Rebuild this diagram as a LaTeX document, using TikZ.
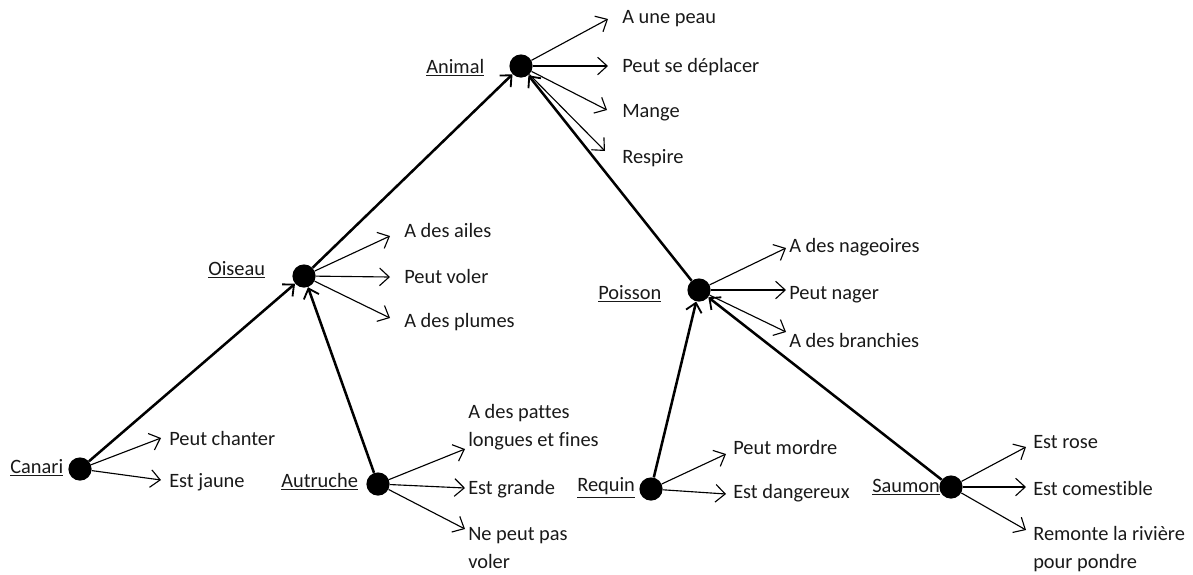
\documentclass[tikz,border=0pt]{standalone}
\usepackage{fontspec}
\setmainfont[Ligatures={NoCommon}]{Carlito}
\usetikzlibrary{arrows.meta}
\begin{document}
\begin{tikzpicture}[x=0.025cm, y=-0.025cm,
  every node/.style={font=\fontsize{14.5}{20}\selectfont, text=black!90},
  dot/.style={circle, fill=black, draw=none, minimum size=0.58cm, inner sep=0pt},
  cls/.style={anchor=west, inner sep=0pt},
  prop/.style={anchor=west, inner sep=0pt, align=left},
  isa/.style={line width=1.8pt, -{Straight Barb[length=2.2mm, width=4mm, line width=1.3pt]}},
  has/.style={line width=0.8pt, -{Straight Barb[length=2.4mm, width=4.4mm, line width=0.8pt]}}
]
\useasboundingbox (0,0) rectangle (1193,574);

% class dots
\node[dot] (animal)   at (521,66)  {};
\node[dot] (oiseau)   at (304,276) {};
\node[dot] (canari)   at (80,469)  {};
\node[dot] (autruche) at (378,484) {};
\node[dot] (poisson)  at (699,290) {};
\node[dot] (requin)   at (651,489) {};
\node[dot] (saumon)   at (951,487) {};

% class names
\node[cls] (lanimal)   at (426,68)  {\underline{Animal}};
\node[cls] (loiseau)   at (208,270) {\underline{Oiseau}};
\node[cls] (lcanari)   at (10,468)  {\underline{Canari}};
\node[cls] (lautruche) at (281,482) {\underline{Autruche}};
\node[cls] (lpoisson)  at (598,294) {\underline{Poisson}};
\node[cls] (lrequin)   at (577,488) {\underline{Requin}};
\node[cls] (lsaumon)   at (872,487) {\underline{Saumon}};

% is-a links
\draw[isa] (canari) -- (oiseau);
\draw[isa] (autruche) -- (oiseau);
\draw[isa] (oiseau) -- (animal);
\draw[isa] (poisson) -- (animal);
\draw[isa] (requin) -- (poisson);
\draw[isa] (saumon) -- (poisson);

% Animal properties
\node[prop] (a1) at (622,19)  {A une peau};
\node[prop] (a2) at (622,67)  {Peut se déplacer};
\node[prop] (a3) at (622,113) {Mange};
\node[prop] (a4) at (622,158) {Respire};
\coordinate (ta1) at (608,19);
\coordinate (ta2) at (608,66);
\coordinate (ta3) at (607,110);
\coordinate (ta4) at (605,151);
\foreach \t in {ta1,ta2,ta3,ta4} \draw[has] (animal) -- (\t);

% Oiseau properties
\node[prop] (o1) at (404,230) {A des ailes};
\node[prop] (o2) at (404,276) {Peut voler};
\node[prop] (o3) at (404,322) {A des plumes};
\coordinate (to1) at (390,236);
\coordinate (to2) at (390,277);
\coordinate (to3) at (390,318);
\foreach \t in {to1,to2,to3} \draw[has] (oiseau) -- (\t);

% Canari properties
\node[prop] (c1) at (169,438) {Peut chanter};
\node[prop] (c2) at (169,482) {Est jaune};
\coordinate (tc1) at (161,438);
\coordinate (tc2) at (161,480);
\foreach \t in {tc1,tc2} \draw[has] (canari) -- (\t);

% Autruche properties
\node[prop] (u1) at (468,427) {A des pattes\\longues et fines};
\node[prop] (u2) at (468,489) {Est grande};
\node[prop] (u3) at (468,548) {Ne peut pas\\voler};
\coordinate (tu1) at (465,449);
\coordinate (tu2) at (465,488);
\coordinate (tu3) at (465,529);
\foreach \t in {tu1,tu2,tu3} \draw[has] (autruche) -- (\t);

% Poisson properties
\node[prop] (p1) at (789,247) {A des nageoires};
\node[prop] (p2) at (789,295) {Peut nager};
\node[prop] (p3) at (789,340) {A des branchies};
\coordinate (tp1) at (786,248);
\coordinate (tp2) at (786,290);
\coordinate (tp3) at (786,332);
\foreach \t in {tp1,tp2,tp3} \draw[has] (poisson) -- (\t);

% Requin properties
\node[prop] (r1) at (733,447) {Peut mordre};
\node[prop] (r2) at (733,493) {Est dangereux};
\coordinate (tr1) at (726,454);
\coordinate (tr2) at (726,494);
\foreach \t in {tr1,tr2} \draw[has] (requin) -- (\t);

% Saumon properties
\node[prop] (s1) at (1033,442) {Est rose};
\node[prop] (s2) at (1033,488) {Est comestible};
\node[prop] (s3) at (1033,549) {Remonte la rivière\\pour pondre};
\coordinate (ts1) at (1026,447);
\coordinate (ts2) at (1026,487);
\coordinate (ts3) at (1026,530);
\foreach \t in {ts1,ts2,ts3} \draw[has] (saumon) -- (\t);
\end{tikzpicture}
\end{document}
